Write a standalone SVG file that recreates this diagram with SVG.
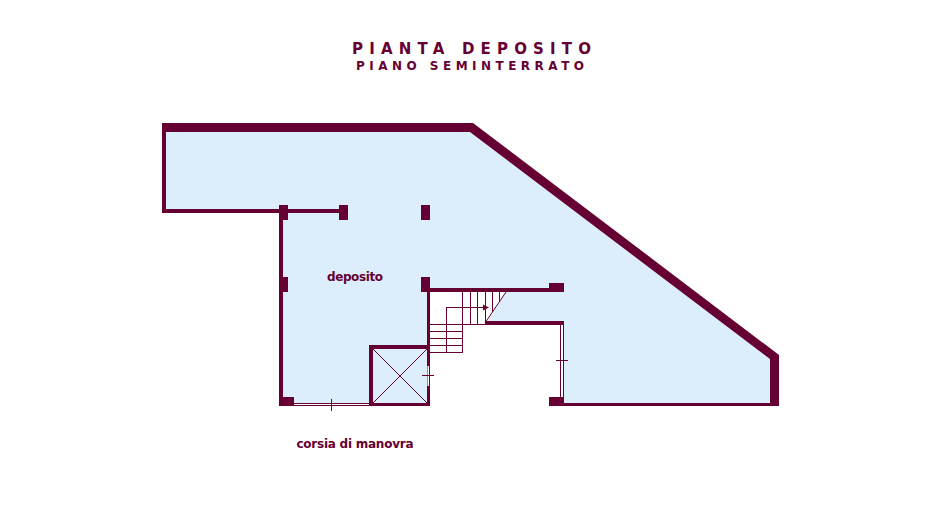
<svg xmlns="http://www.w3.org/2000/svg" width="942" height="530" viewBox="0 0 942 530">
<style>
.w{fill:#660033}
.f{fill:#dcedfc}
.l{stroke:#660033;stroke-width:1;fill:none;shape-rendering:crispEdges}
.t{stroke:#660033;stroke-width:1;fill:none}
.s{stroke:#660033;stroke-width:1;fill:none;shape-rendering:crispEdges}
text{font-family:"DejaVu Sans","Liberation Sans",sans-serif;font-weight:bold;fill:#660033}
</style>
<rect width="942" height="530" fill="#fff"/>
<path class="f" d="M162 123H473L779 355V406H562V325H485L506 292H430V406H280V213H162Z"/>
<rect x="429" y="292" width="1" height="114" fill="#fff"/>
<g id="walls">
<path class="w" d="M162 123H473L779 355V406H770V359L470 132H166V209H279V213H162Z"/>
<rect class="w" x="279" y="205" width="9" height="15"/>
<rect class="w" x="288" y="209" width="51" height="4"/>
<rect class="w" x="339" y="205" width="9" height="15"/>
<rect class="w" x="421" y="205" width="9" height="15"/>
<rect class="w" x="279" y="220" width="4" height="186"/>
<rect class="w" x="279" y="277" width="9" height="15"/>
<rect class="w" x="279" y="397" width="15" height="9"/>
<rect class="w" x="421" y="277" width="9" height="15"/>
<rect class="w" x="427" y="292" width="3" height="114"/>
<rect class="w" x="430" y="288" width="119" height="4"/>
<rect class="w" x="549" y="283" width="15" height="9"/>
<rect class="w" x="485" y="321" width="79" height="4"/>
<rect class="w" x="549" y="397" width="15" height="9"/>
<rect class="w" x="564" y="403" width="206" height="3"/>
<path class="w" fill-rule="evenodd" d="M369 345H430V406H369ZM373 349V403H427V349Z"/>
</g>
<g id="doors">
<rect x="294" y="403" width="75" height="3" fill="#fff"/>
<path class="l" d="M294 403.5H369M294 405.5H369"/>
<rect x="560" y="325" width="4" height="72" fill="#fff"/>
<path class="l" d="M560.5 325V397M563.5 325V397"/>
<rect x="427.5" y="366" width="1.5" height="20" fill="#fff"/>
<path class="l" d="M331.5 399V411M556 360.5H568M422 375.5H434"/>
<path class="t" d="M373 349L427 403M427 349L373 403"/>
</g>
<g id="stairs">
<path class="s" d="M462.5 292V352M470.5 292V324M477.5 292V324M485.5 292V323M492.5 292V312M499.5 292V302"/>
<path class="s" d="M430 324.5H485M430 331.5H463M430 338.5H463M430 345.5H463M430 352.5H463"/>
<path class="s" d="M446.5 352V307.5H488"/>
<path class="t" d="M485 323L506 292"/>
<path class="w" d="M483 304.5L489 307.5L483 310.5Z"/>
</g>
<text x="352" y="54" font-size="15" textLength="239" lengthAdjust="spacing">PIANTA DEPOSITO</text>
<text x="356" y="70" font-size="12" textLength="228" lengthAdjust="spacing">PIANO SEMINTERRATO</text>
<text x="327" y="281" font-size="12" textLength="56" lengthAdjust="spacing">deposito</text>
<text x="296.5" y="448" font-size="12" textLength="117" lengthAdjust="spacing">corsia di manovra</text>
</svg>
